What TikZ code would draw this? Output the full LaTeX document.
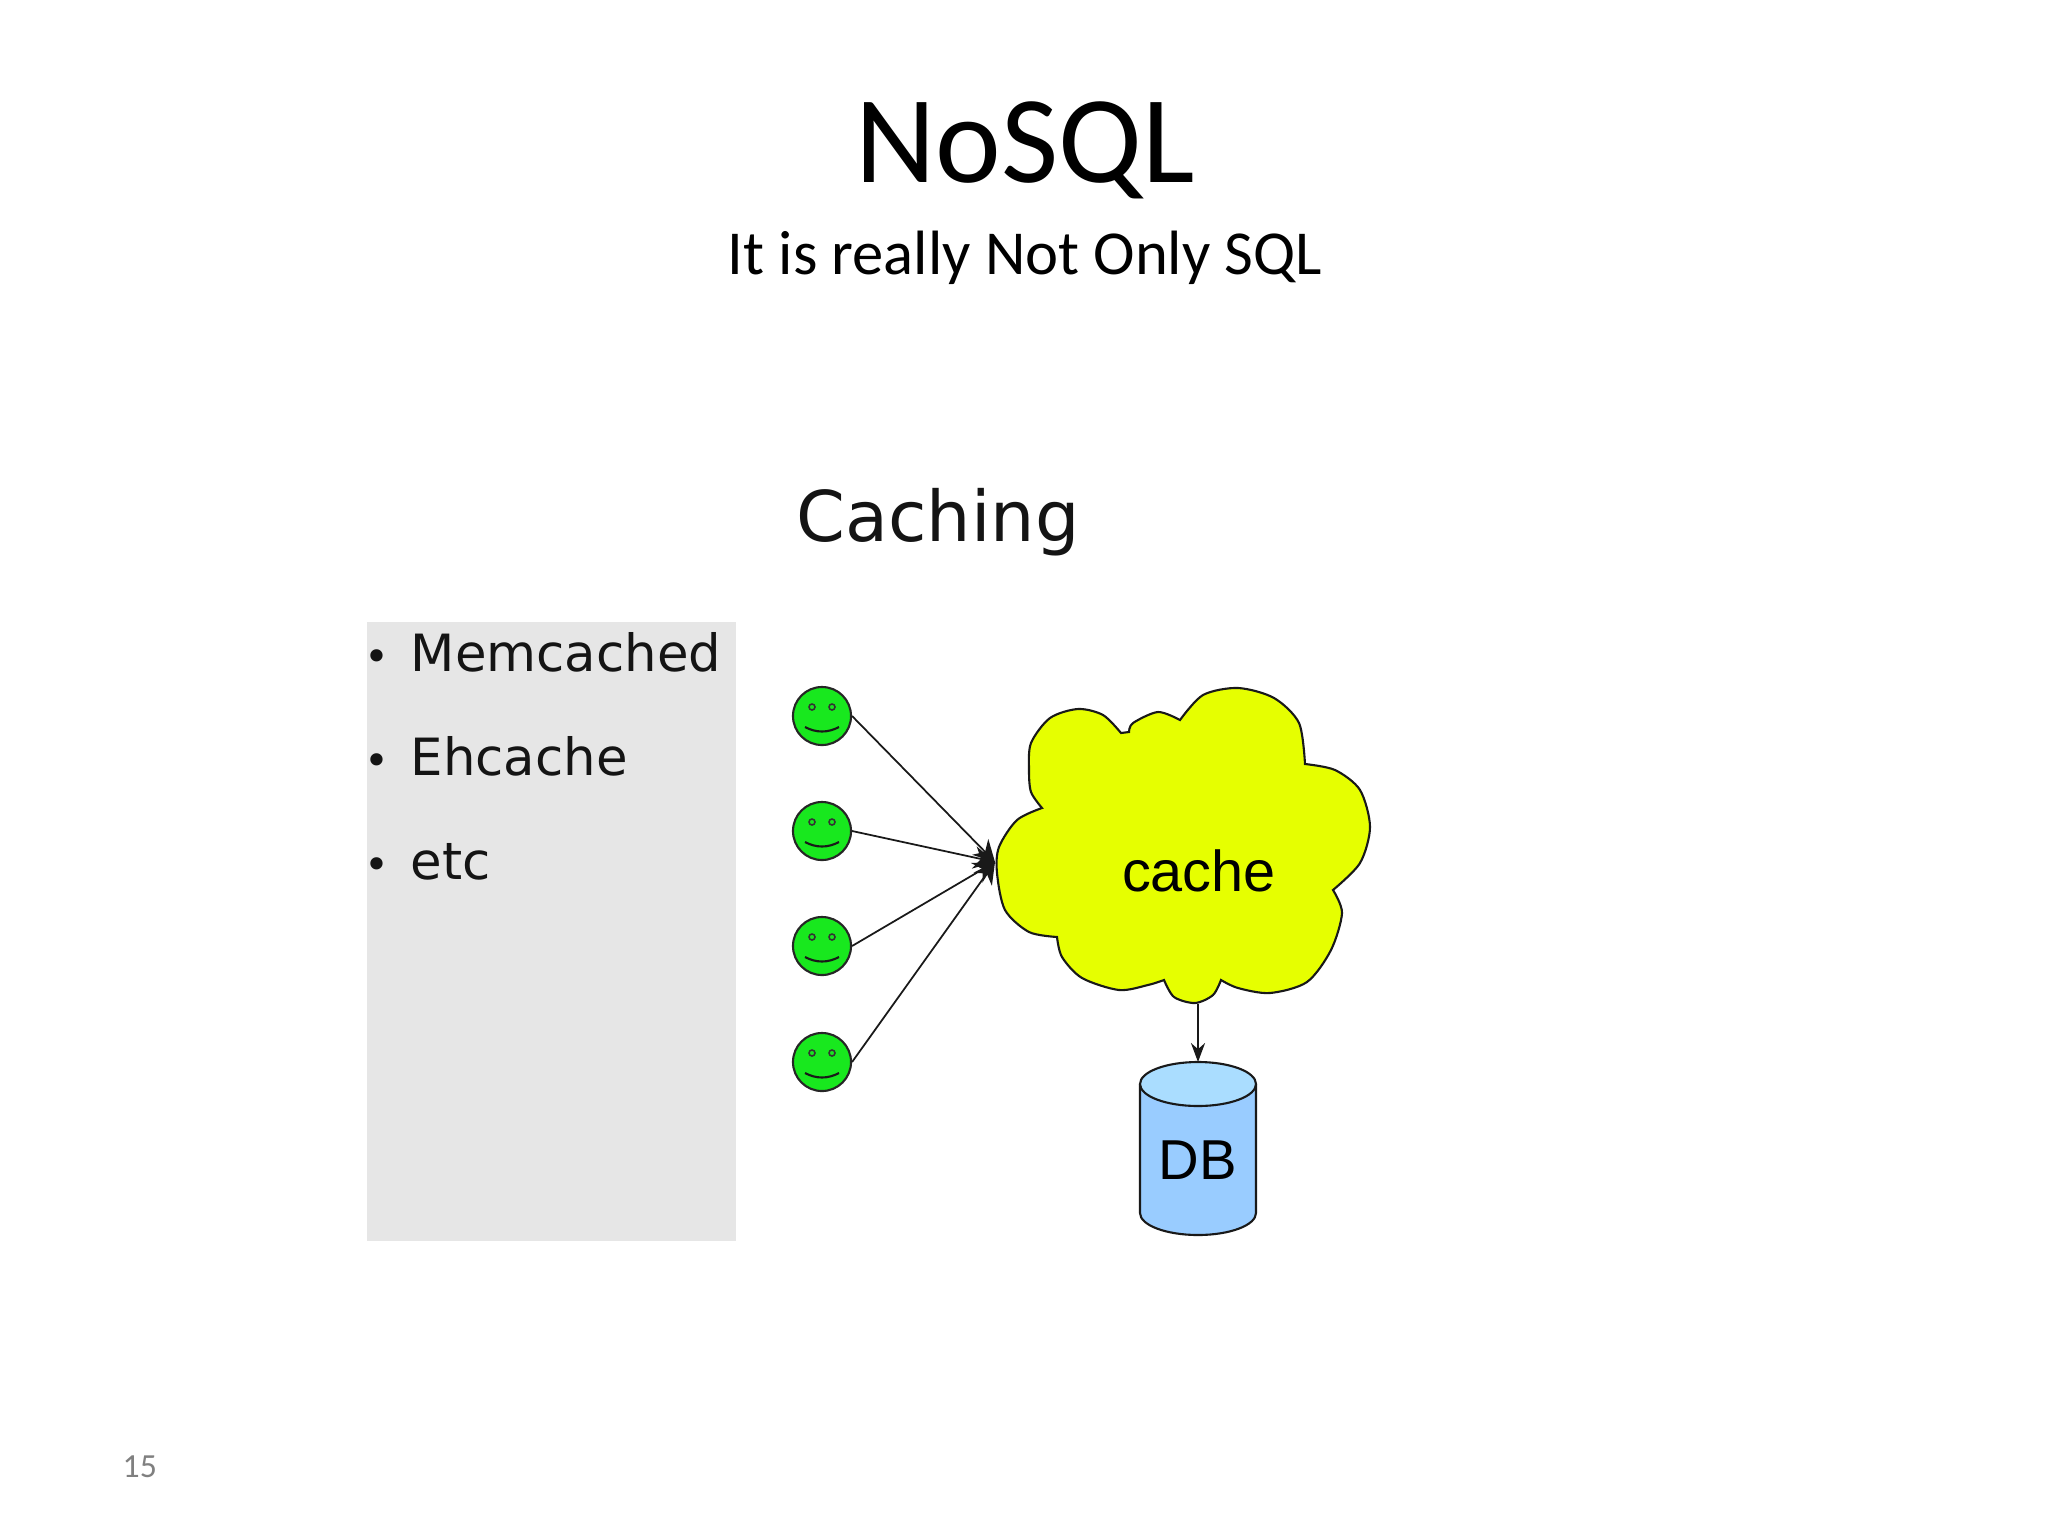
\documentclass[tikz,border=0pt]{standalone}
\usepackage{fontspec}
\setmainfont{Carlito}
\newfontfamily\dejavu{DejaVu Sans}
\newfontfamily\arial{Liberation Sans}
\usetikzlibrary{arrows.meta}
\tikzset{
	label text/.style={inner sep=0pt, anchor=base west, text=black!92, font=\dejavu\fontsize{14.6}{17}\selectfont},
	bullet text/.style={label text, font=\dejavu\fontsize{12}{14}\selectfont},
	face/.style={circle, draw=black!85, line width=0.6pt, fill=faceGreen, minimum size=0.58cm, inner sep=0pt},
	link/.style={line width=0.5pt, draw=black!90, -{Stealth[length=6pt,width=6.4pt]}},
	db line/.style={line width=0.6pt, draw=black!90}
}
\definecolor{faceGreen}{RGB}{24,232,30}
\definecolor{cloudYellow}{RGB}{230,255,0}
\definecolor{dbBody}{RGB}{153,204,255}
\definecolor{dbTop}{RGB}{170,221,255}
\definecolor{panelGray}{RGB}{230,230,230}
\begin{document}
\begin{tikzpicture}[x=0.01cm,y=-0.01cm]
	\useasboundingbox (0,0) rectangle (2048,1536);
	% slide heading
	\node[inner sep=0pt, anchor=base, font=\fontsize{35.4}{40}\selectfont] (title) at (1025,182) {NoSQL};
	\node[inner sep=0pt, anchor=base, font=\fontsize{17.8}{21}\selectfont] (subtitle) at (1025,274) {It is really Not Only SQL};
	\node[label text, anchor=base, font=\dejavu\fontsize{19.9}{23}\selectfont] (caching) at (938,541) {Caching};
	% side panel
	\fill[panelGray] (367,622) rectangle (736,1241);
	\node[bullet text] (bullet1) at (364,671) {•};
	\node[bullet text] (bullet2) at (364,775) {•};
	\node[bullet text] (bullet3) at (364,879) {•};
	\node[label text] (memcached) at (410,671) {Memcached};
	\node[label text] (ehcache) at (410,775) {Ehcache};
	\node[label text] (etc) at (410,879) {etc};
	% cloud outline, one smooth run per lobe
	\draw[fill=cloudYellow, line width=0.6pt, draw=black!90]
		plot[smooth] coordinates {(1042,808) (1017,820) (999,847) (997,873) (1005,910) (1029,932) (1057,937)}
		-- plot[smooth] coordinates {(1057,937) (1062,957) (1082,978) (1119,990) (1148,985) (1164,980)}
		-- plot[smooth] coordinates {(1164,980) (1174,997) (1195,1003) (1213,995) (1221,980)}
		-- plot[smooth] coordinates {(1221,980) (1238,988) (1270,993) (1307,982) (1331,950) (1342,913) (1333,890)}
		-- plot[smooth] coordinates {(1333,890) (1360,863) (1370,827) (1360,790) (1335,770) (1305,764)}
		-- plot[smooth] coordinates {(1305,764) (1299,723) (1274,698) (1238,688) (1203,695) (1180,720)}
		-- plot[smooth] coordinates {(1180,720) (1158,712) (1133,723) (1129,732)}
		-- plot[smooth] coordinates {(1121,733) (1103,715) (1078,709) (1050,718) (1031,743) (1029,770) (1031,792) (1042,808)}
		-- cycle;
	\node[inner sep=0pt, font=\arial\fontsize{16.4}{19}\selectfont] (cache) at (1199,871) {cache};
	\coordinate (hub) at (995,862);
	\coordinate (cloudfoot) at (1198,1004);
	% clients
	\node[face] (face1) at (822,716) {};
	\node[face] (face2) at (822,831) {};
	\node[face] (face3) at (822,946) {};
	\node[face] (face4) at (822,1062) {};
	\foreach \f in {1,2,3,4} {
		\draw[line width=0.45pt, black!80] ([shift={(-10,-9)}]face\f.center) circle (3);
		\draw[line width=0.45pt, black!80] ([shift={(10,-9)}]face\f.center) circle (3);
		\draw[line width=0.6pt, black!90] ([shift={(-17,11)}]face\f.center) .. controls ([shift={(-6,17)}]face\f.center) and ([shift={(6,17)}]face\f.center) .. ([shift={(17,11)}]face\f.center);
		\draw[link] (face\f.east) -- (hub);
	}
	% database
	\coordinate (dbtop) at (1198,1062);
	\path[fill=dbBody] (1140,1084) -- (1140,1213) arc[start angle=180, end angle=360, x radius=58, y radius=-22] -- (1256,1084) -- cycle;
	\draw[db line] (1140,1084) -- (1140,1213) arc[start angle=180, end angle=360, x radius=58, y radius=-22] -- (1256,1084);
	\draw[db line, fill=dbTop] (1198,1084) ellipse[x radius=58, y radius=22];
	\node[inner sep=0pt, font=\arial\fontsize{16}{19}\selectfont] (db) at (1198,1160) {DB};
	\draw[link, -{Stealth[length=5.4pt,width=4pt]}] (cloudfoot) -- (dbtop);
	% page number
	\node[inner sep=0pt, anchor=base west, text=black!50, font=\fontsize{9.6}{12}\selectfont] (pagenum) at (122,1477) {15};
\end{tikzpicture}
\end{document}
